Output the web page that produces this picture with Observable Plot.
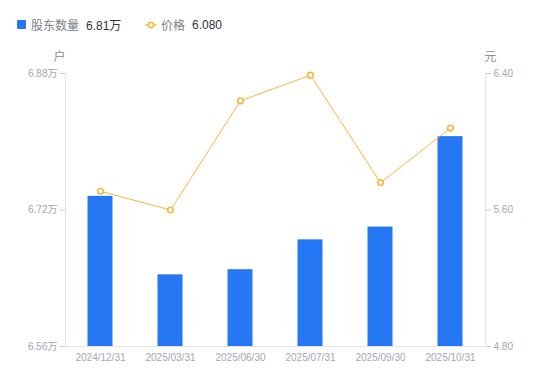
<!DOCTYPE html>
<html>
<head>
<meta charset="utf-8">
<script src="https://cdn.jsdelivr.net/npm/d3@7"></script>
<script src="https://cdn.jsdelivr.net/npm/@observablehq/plot@0.6"></script>
<style>
  html, body { margin: 0; padding: 0; background: #fff; }
  body { width: 550px; height: 381px; overflow: hidden; font-family: "Liberation Sans", "Noto Sans CJK SC", sans-serif; }
  #legend { position: relative; height: 45px; font-size: 12px; }
  #legend .item { position: absolute; top: 16px; display: flex; align-items: center; white-space: nowrap; }
  #legend .name { color: #7a7e88; }
  #legend .val { color: #333; margin-left: 7px; }
  #chart svg { display: block; }
</style>
</head>
<body>
<div id="legend">
  <div class="item" style="left:17px">
    <span style="display:inline-block;width:9px;height:9px;background:#2577f4;border-radius:1px;margin-right:5px"></span>
    <span class="name">股东数量</span><span class="val">6.81万</span>
  </div>
  <div class="item" style="left:145px">
    <svg width="12" height="10" style="margin-right:4px"><line x1="0" y1="5" x2="12" y2="5" stroke="#f8b640" stroke-width="1.2"/><circle cx="6" cy="5" r="2.6" fill="#fff" stroke="#f8b640" stroke-width="1.6"/></svg>
    <span class="name">价格</span><span class="val">6.080</span>
  </div>
</div>
<div id="chart"></div>
<script>
const dates = ["2024/12/31", "2025/03/31", "2025/06/30", "2025/07/31", "2025/09/30", "2025/10/31"];
const holders = [6.736, 6.644, 6.650, 6.685, 6.700, 6.806]; // 万户
const prices = [5.71, 5.60, 6.24, 6.39, 5.76, 6.08]; // 元
const leftTicks = [6.56, 6.72, 6.88];
const rightTicks = [4.80, 5.60, 6.40];

const leftMin = leftTicks[0], leftMax = leftTicks[leftTicks.length - 1];
const rightMin = rightTicks[0], rightMax = rightTicks[rightTicks.length - 1];
const toLeft = p => leftMin + (p - rightMin) * (leftMax - leftMin) / (rightMax - rightMin);
const toRight = v => rightMin + (v - leftMin) * (rightMax - rightMin) / (leftMax - leftMin);

const data = dates.map((d, i) => ({date: d, holders: holders[i], price: prices[i]}));

const axisLineColor = "#e3e4e8";
const textColor = "#a3a6b2";
const orange = "#f8b640";

const sideLines = (index, scales, values, dims) => {
  const g = d3.create("svg:g");
  const y0 = scales.y(leftMin), y1 = scales.y(leftMax);
  for (const x of [dims.marginLeft, dims.width - dims.marginRight]) {
    g.append("line").attr("x1", x + 0.5).attr("x2", x + 0.5).attr("y1", y0).attr("y2", y1)
      .attr("stroke", axisLineColor).attr("stroke-width", 1);
  }
  return g.node();
};

const chart = Plot.plot({
  width: 550,
  height: 336,
  marginLeft: 65,
  marginRight: 65,
  marginTop: 28,
  marginBottom: 35,
  style: {fontFamily: "'Liberation Sans', 'Noto Sans CJK SC', sans-serif", fontSize: "10px", color: textColor, background: "#fff"},
  x: {domain: dates, padding: 0, label: null},
  y: {domain: [leftMin, leftMax], label: null},
  marks: [
    Plot.barY(data, {x: "date", y1: leftMin, y2: "holders", fill: "#2577f4", insetLeft: 22.5, insetRight: 22.5}),
    Plot.ruleY([leftMin], {stroke: axisLineColor, strokeWidth: 1}),
    sideLines,
    Plot.axisY({anchor: "left", ticks: leftTicks, tickFormat: d => d.toFixed(2) + "万", tickSize: 5, tickPadding: 3, stroke: "#c9cbd2", fill: textColor, label: null}),
    Plot.axisY({anchor: "right", ticks: rightTicks.map(toLeft), tickFormat: d => toRight(d).toFixed(2), tickSize: 5, tickPadding: 3, stroke: "#c9cbd2", fill: textColor, label: null}),
    Plot.axisX({tickSize: 0, tickPadding: 7, fill: textColor, label: null}),
    Plot.text(["户"], {frameAnchor: "top-left", textAnchor: "middle", lineAnchor: "middle", dx: -6, dy: -16, fontSize: 12, fill: "#8d909b"}),
    Plot.text(["元"], {frameAnchor: "top-right", textAnchor: "middle", lineAnchor: "middle", dx: 5, dy: -16, fontSize: 12, fill: "#8d909b"}),
    Plot.line(data, {x: "date", y: d => toLeft(d.price), stroke: orange, strokeWidth: 1}),
    Plot.dot(data, {x: "date", y: d => toLeft(d.price), r: 2.8, fill: "#fff", stroke: orange, strokeWidth: 1.6})
  ]
});
document.getElementById("chart").append(chart);
</script>
</body>
</html>
